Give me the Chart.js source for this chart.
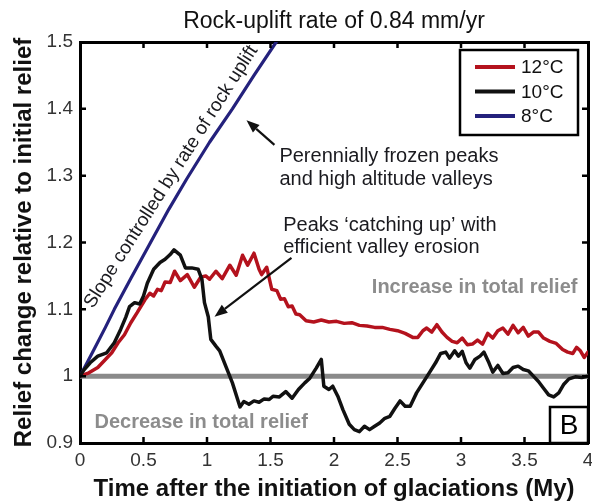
<!DOCTYPE html>
<html>
<head>
<meta charset="utf-8">
<script src="https://cdn.jsdelivr.net/npm/chart.js@4"></script>
<style>
  html, body { margin: 0; padding: 0; background: #fff; }
</style>
</head>
<body>
<canvas id="relief" width="592" height="504"></canvas>
<script>
// relief change vs time, one run per temperature
const years12 = [0, 0.07, 0.14, 0.2, 0.25, 0.3, 0.35, 0.4, 0.45, 0.51, 0.55, 0.58, 0.61, 0.64, 0.67, 0.71, 0.745, 0.79, 0.845, 0.9, 0.95, 0.99, 1.02, 1.07, 1.12, 1.18, 1.23, 1.28, 1.32, 1.37, 1.41, 1.43, 1.47, 1.51, 1.55, 1.58, 1.61, 1.64, 1.67, 1.7, 1.73, 1.78, 1.84, 1.9, 1.96, 2.02, 2.08, 2.14, 2.2, 2.26, 2.32, 2.38, 2.44, 2.5, 2.56, 2.62, 2.66, 2.7, 2.73, 2.77, 2.81, 2.85, 2.89, 2.93, 2.97, 3.01, 3.05, 3.09, 3.13, 3.17, 3.21, 3.25, 3.29, 3.33, 3.37, 3.41, 3.45, 3.49, 3.53, 3.57, 3.61, 3.65, 3.7, 3.75, 3.8, 3.84, 3.88, 3.91, 3.94, 3.97, 4.0];
const relief12 = [1.0, 1.005, 1.013, 1.025, 1.035, 1.05, 1.062, 1.08, 1.095, 1.114, 1.124, 1.12, 1.13, 1.128, 1.141, 1.14, 1.157, 1.143, 1.152, 1.133, 1.148, 1.15, 1.145, 1.157, 1.146, 1.166, 1.151, 1.181, 1.166, 1.184, 1.16, 1.152, 1.163, 1.13, 1.128, 1.115, 1.116, 1.104, 1.105, 1.093, 1.092, 1.083, 1.081, 1.084, 1.081, 1.082, 1.079, 1.08, 1.076, 1.075, 1.073, 1.073, 1.07, 1.068, 1.064, 1.058, 1.058, 1.068, 1.072, 1.066, 1.077, 1.066, 1.058, 1.052, 1.05, 1.057, 1.047, 1.048, 1.054, 1.048, 1.064, 1.057, 1.068, 1.072, 1.063, 1.076, 1.065, 1.073, 1.06, 1.066, 1.066, 1.057, 1.052, 1.049, 1.04, 1.036, 1.034, 1.043, 1.038, 1.028, 1.036];

const years10 = [0, 0.03, 0.08, 0.14, 0.21, 0.27, 0.32, 0.36, 0.39, 0.43, 0.47, 0.5, 0.53, 0.58, 0.63, 0.67, 0.71, 0.74, 0.79, 0.83, 0.88, 0.93, 0.96, 0.98, 1.01, 1.03, 1.07, 1.1, 1.15, 1.2, 1.26, 1.29, 1.33, 1.37, 1.41, 1.45, 1.49, 1.52, 1.57, 1.62, 1.67, 1.72, 1.77, 1.81, 1.86, 1.9, 1.92, 1.96, 1.99, 2.03, 2.07, 2.12, 2.16, 2.2, 2.24, 2.28, 2.32, 2.36, 2.4, 2.44, 2.48, 2.52, 2.56, 2.6, 2.65, 2.7, 2.75, 2.8, 2.84, 2.88, 2.91, 2.95, 2.98, 3.01, 3.04, 3.07, 3.11, 3.15, 3.18, 3.22, 3.25, 3.29, 3.33, 3.37, 3.41, 3.45, 3.49, 3.53, 3.57, 3.61, 3.65, 3.69, 3.73, 3.77, 3.81, 3.85, 3.9, 3.95, 4.0];
const relief10 = [1.0, 1.009, 1.02, 1.03, 1.035, 1.05, 1.07, 1.088, 1.104, 1.11, 1.108, 1.12, 1.139, 1.16, 1.17, 1.175, 1.182, 1.189, 1.181, 1.162, 1.162, 1.16, 1.145, 1.11, 1.089, 1.055, 1.045, 1.038, 1.014, 0.99, 0.954, 0.962, 0.958, 0.963, 0.961, 0.966, 0.965, 0.97, 0.969, 0.977, 0.967, 0.98, 0.99, 0.997, 1.012, 1.025, 0.985, 0.98, 0.985, 0.97, 0.95, 0.928, 0.92, 0.917, 0.925, 0.92, 0.925, 0.93, 0.937, 0.94, 0.952, 0.963, 0.955, 0.955, 0.975, 0.99, 1.005, 1.02, 1.034, 1.036, 1.027, 1.038, 1.03, 1.037, 1.02, 1.012, 1.025, 1.03, 1.036, 1.02, 1.006, 1.016, 1.004, 1.005, 1.013, 1.015, 1.01, 1.008, 1.0, 0.992, 0.982, 0.972, 0.969, 0.975, 0.988, 0.996, 0.999, 0.998, 1.0];

const years8 = [0, 0.1, 0.2, 0.27, 0.4, 0.55, 0.7, 0.84, 1.02, 1.2, 1.37, 1.545];
const relief8 = [1.0, 1.036, 1.073, 1.1, 1.146, 1.198, 1.25, 1.295, 1.35, 1.4, 1.45, 1.5];

// no-change reference
const baselineYears = [0, 4];
const baselineRelief = [1, 1];

const seriesLabels = ['12°C', '10°C', '8°C'];
const xTickValues = [0, 0.5, 1, 1.5, 2, 2.5, 3, 3.5, 4];
const yTickValues = [0.9, 1, 1.1, 1.2, 1.3, 1.4, 1.5];

const FONT = "'Liberation Sans', Arial, Helvetica, sans-serif";
const pts = (xs, ys) => xs.map((x, i) => ({ x: x, y: ys[i] }));

// MATLAB style tick marks pointing into the box on all four sides
const innerTicks = {
    id: 'innerTicks',
    afterDatasetsDraw(chart) {
        const { ctx, chartArea: a, scales: { x, y } } = chart;
        const len = 6;
        ctx.save();
        ctx.strokeStyle = '#000';
        ctx.lineWidth = 2.5;
        ctx.beginPath();
        xTickValues.slice(1, -1).forEach(v => {
            const px = x.getPixelForValue(v);
            ctx.moveTo(px, a.bottom); ctx.lineTo(px, a.bottom - len);
            ctx.moveTo(px, a.top); ctx.lineTo(px, a.top + len);
        });
        yTickValues.slice(1, -1).forEach(v => {
            const py = y.getPixelForValue(v);
            ctx.moveTo(a.left, py); ctx.lineTo(a.left + len, py);
            ctx.moveTo(a.right, py); ctx.lineTo(a.right - len, py);
        });
        ctx.stroke();
        ctx.restore();
    }
};

// boxed legend in the upper right corner
const boxLegend = {
    id: 'boxLegend',
    afterDraw(chart) {
        const { ctx, chartArea: a } = chart;
        const bx = a.right - 128, by = a.top + 8, bw = 118, bh = 85;
        ctx.save();
        ctx.fillStyle = '#fff';
        ctx.fillRect(bx, by, bw, bh);
        ctx.strokeStyle = '#000';
        ctx.lineWidth = 2.5;
        ctx.strokeRect(bx, by, bw, bh);
        ctx.font = '19px ' + FONT;
        ctx.textBaseline = 'middle';
        chart.data.datasets.filter(d => d.inLegend).forEach((d, i) => {
            const ly = by + 17 + i * 24.5;
            ctx.strokeStyle = d.borderColor;
            ctx.lineWidth = 4;
            ctx.beginPath();
            ctx.moveTo(bx + 15, ly); ctx.lineTo(bx + 55, ly);
            ctx.stroke();
            ctx.fillStyle = '#111';
            ctx.fillText(d.label, bx + 61, ly + 1);
        });
        ctx.restore();
    }
};

function arrow(ctx, x0, y0, x1, y1) {
    const ang = Math.atan2(y1 - y0, x1 - x0);
    const head = 13, half = 5;
    const bx = x1 - head * Math.cos(ang), by = y1 - head * Math.sin(ang);
    ctx.beginPath();
    ctx.moveTo(x0, y0); ctx.lineTo(bx, by);
    ctx.stroke();
    ctx.beginPath();
    ctx.moveTo(x1, y1);
    ctx.lineTo(bx + half * Math.sin(ang), by - half * Math.cos(ang));
    ctx.lineTo(bx - half * Math.sin(ang), by + half * Math.cos(ang));
    ctx.closePath();
    ctx.fill();
}

// text notes, arrows and the panel letter
const notes = {
    id: 'notes',
    afterDraw(chart) {
        const { ctx, chartArea: a, scales: { x, y } } = chart;
        const X = v => x.getPixelForValue(v), Y = v => y.getPixelForValue(v);
        ctx.save();
        ctx.fillStyle = '#1a1a1f';
        ctx.strokeStyle = '#111';
        ctx.lineWidth = 2.2;
        ctx.textBaseline = 'middle';
        ctx.font = '20px ' + FONT;
        ctx.fillText('Perennially frozen peaks', X(1.57), Y(1.328));
        ctx.fillText('and high altitude valleys', X(1.57), Y(1.328) + 23);
        ctx.fillText('Peaks \u2018catching up\u2019 with', X(1.6), Y(1.226));
        ctx.fillText('efficient valley erosion', X(1.6), Y(1.226) + 22);
        ctx.fillStyle = '#111';
        arrow(ctx, X(1.531), Y(1.346), X(1.311), Y(1.383));
        arrow(ctx, X(1.665), Y(1.177), X(1.059), Y(1.089));

        // note along the 8°C curve, sitting just above it
        ctx.save();
        ctx.translate(X(0.77), Y(1.292));
        ctx.rotate(-57.5 * Math.PI / 180);
        ctx.textAlign = 'center';
        ctx.font = '19px ' + FONT;
        ctx.fillStyle = '#1a1a1f';
        ctx.fillText('Slope controlled by rate of rock uplift', 0, -8);
        ctx.restore();

        ctx.font = 'bold 20px ' + FONT;
        ctx.fillStyle = '#8c8c8c';
        ctx.textAlign = 'right';
        ctx.fillText('Increase in total relief', X(3.917), Y(1.132));
        ctx.textAlign = 'left';
        ctx.fillText('Decrease in total relief', X(0.114), Y(0.931));

        // panel letter
        ctx.fillStyle = '#fff';
        ctx.fillRect(a.right - 38, a.bottom - 36, 38, 36);
        ctx.strokeStyle = '#000';
        ctx.lineWidth = 2.5;
        ctx.strokeRect(a.right - 38, a.bottom - 36, 38, 36);
        ctx.fillStyle = '#000';
        ctx.textAlign = 'center';
        ctx.font = '28px ' + FONT;
        ctx.fillText('B', a.right - 19, a.bottom - 17);
        ctx.restore();
    }
};

const hidden = { drawOnChartArea: false, drawTicks: false };
const frame = { display: true, color: '#000', width: 3 };

new Chart(document.getElementById('relief'), {
    type: 'line',
    data: {
        datasets: [
            { label: seriesLabels[0], data: pts(years12, relief12), borderColor: '#b4121d', borderWidth: 3.5, order: 1, inLegend: true },
            { label: seriesLabels[1], data: pts(years10, relief10), borderColor: '#111111', borderWidth: 3.5, order: 0, inLegend: true },
            { label: seriesLabels[2], data: pts(years8, relief8), borderColor: '#24217c', borderWidth: 3.2, order: 2, inLegend: true },
            { label: 'baseline', data: pts(baselineYears, baselineRelief), borderColor: '#8a8a8a', borderWidth: 5, order: 3, inLegend: false }
        ]
    },
    options: {
        responsive: false,
        animation: false,
        parsing: false,
        layout: { padding: { left: 0, right: 4, top: 0, bottom: 0 } },
        elements: {
            point: { radius: 0 },
            line: { tension: 0, borderJoinStyle: 'round', borderCapStyle: 'round', fill: false }
        },
        plugins: {
            legend: { display: false },
            tooltip: { enabled: false },
            title: { display: false }
        },
        scales: {
            x: {
                type: 'linear', position: 'bottom', min: 0, max: 4,
                afterBuildTicks: s => { s.ticks = xTickValues.map(v => ({ value: v })); },
                ticks: { font: { family: FONT, size: 19 }, color: '#333', padding: 6, maxRotation: 0, autoSkip: false, callback: v => String(v) },
                grid: hidden,
                border: frame,
                title: { display: true, text: 'Time after the initiation of glaciations (My)', color: '#111', font: { family: FONT, size: 24, weight: 'bold' }, padding: { top: 0, bottom: 0 } },
                afterFit: s => { s.height = 61; s.paddingLeft = 0; s.paddingRight = 0; }
            },
            x2: {
                type: 'linear', position: 'top', min: 0, max: 4,
                ticks: { display: false },
                grid: hidden,
                border: frame,
                title: { display: true, text: 'Rock-uplift rate of 0.84 mm/yr', color: '#111', font: { family: FONT, size: 23 }, padding: { top: 8, bottom: 0 } },
                afterFit: s => { s.height = 42; s.paddingLeft = 0; s.paddingRight = 0; }
            },
            y: {
                type: 'linear', position: 'left', min: 0.9, max: 1.5,
                afterBuildTicks: s => { s.ticks = yTickValues.map(v => ({ value: v })); },
                ticks: { font: { family: FONT, size: 19 }, color: '#333', padding: 7, callback: v => String(+v.toFixed(1)) },
                grid: hidden,
                border: frame,
                title: { display: true, text: 'Relief change relative to initial relief', color: '#111', font: { family: FONT, size: 24, weight: 'bold' }, padding: { top: 10, bottom: 0 } },
                afterFit: s => { s.width = 80; s.paddingTop = 0; s.paddingBottom = 0; }
            },
            y2: {
                type: 'linear', position: 'right', min: 0.9, max: 1.5,
                ticks: { display: false },
                grid: hidden,
                border: frame,
                afterFit: s => { s.width = 0; s.paddingTop = 0; s.paddingBottom = 0; }
            }
        }
    },
    plugins: [innerTicks, notes, boxLegend]
});
</script>
</body>
</html>
